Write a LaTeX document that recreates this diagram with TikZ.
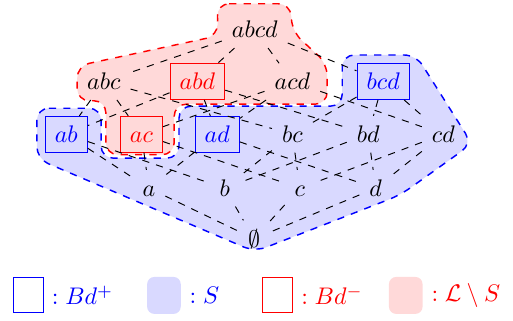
\documentclass[tikz,border=0pt]{standalone}
\usepackage{amsmath}
\usepackage{amssymb}
\usetikzlibrary{positioning}

\begin{document}
\begin{tikzpicture}[
  vertex/.style={inner sep=4pt, text height=1.6ex, text depth=0pt},
  bdplus/.style={draw=blue, text=blue},
  bdminus/.style={draw=red, text=red},
  edge/.style={dashed},
  region/.style={dashed, semithick, rounded corners=5pt}
]
\useasboundingbox (0,0) rectangle (7.51,4.685);

% S and L \ S
\draw[region, draw=blue, fill=blue!15] (0.54,3.10) -- (1.48,3.10) -- (1.48,2.37) -- (2.62,2.37) -- (2.62,3.13) -- (5.01,3.13) -- (5.01,3.88) -- (6.09,3.88) -- (6.91,2.58) -- (5.86,1.83) -- (3.73,1.00) -- (0.54,2.36) -- cycle;
\draw[region, draw=red, fill=red!15] (3.18,4.63) -- (4.25,4.63) -- (4.28,4.22) -- (4.79,3.75) -- (4.79,3.16) -- (2.55,3.16) -- (2.55,2.42) -- (1.55,2.42) -- (1.55,3.21) -- (1.13,3.21) -- (1.13,3.72) -- (3.19,4.16) -- cycle;

% lattice
\node[vertex] (abcd) at (3.73,4.25) {$abcd$};
\node[vertex] (abc) at (1.52,3.49) {$abc$};
\node[vertex, bdminus] (abd) at (2.89,3.49) {$abd$};
\node[vertex] (acd) at (4.28,3.49) {$acd$};
\node[vertex, bdplus] (bcd) at (5.61,3.49) {$bcd$};
\node[vertex, bdplus] (ab) at (0.97,2.72) {$ab$};
\node[vertex, bdminus] (ac) at (2.07,2.72) {$ac$};
\node[vertex, bdplus] (ad) at (3.18,2.72) {$ad$};
\node[vertex] (bc) at (4.28,2.72) {$bc$};
\node[vertex] (bd) at (5.39,2.72) {$bd$};
\node[vertex] (cd) at (6.49,2.72) {$cd$};
\node[vertex] (a) at (2.18,1.93) {$a$};
\node[vertex] (b) at (3.29,1.93) {$b$};
\node[vertex] (c) at (4.39,1.93) {$c$};
\node[vertex] (d) at (5.50,1.93) {$d$};
\node[vertex] (empty) at (3.72,1.19) {$\emptyset$};

% covering relations
\draw[edge] (abcd) -- (abc) (abcd) -- (abd) (abcd) -- (acd) (abcd) -- (bcd);
\draw[edge] (abc) -- (ab) (abc) -- (ac) (abc) -- (bc);
\draw[edge] (abd) -- (ab) (abd) -- (ad) (abd) -- (bd);
\draw[edge] (acd) -- (ac) (acd) -- (ad) (acd) -- (cd);
\draw[edge] (bcd) -- (bc) (bcd) -- (bd) (bcd) -- (cd);
\draw[edge] (ab) -- (a) (ab) -- (b) (ac) -- (a) (ac) -- (c) (ad) -- (a) (ad) -- (d);
\draw[edge] (bc) -- (b) (bc) -- (c) (bd) -- (b) (bd) -- (d) (cd) -- (c) (cd) -- (d);
\draw[edge] (a) -- (empty) (b) -- (empty) (c) -- (empty) (d) -- (empty);

% legend
\node[bdplus, inner sep=0pt, minimum width=12.5pt, minimum height=14.6pt] (keybdp) at (0.41,0.36) {};
\node[text=blue, right=0pt of keybdp] (keybdptxt) {$:Bd^+$};
\node[fill=blue!15, rounded corners=3pt, inner sep=0pt, minimum width=14pt, minimum height=15.4pt] (keys) at (2.40,0.36) {};
\node[text=blue, right=0pt of keys] (keystxt) {$:S$};
\node[bdminus, inner sep=0pt, minimum width=12.5pt, minimum height=14.6pt] (keybdm) at (4.06,0.36) {};
\node[text=red, right=0pt of keybdm] (keybdmtxt) {$:Bd^-$};
\node[fill=red!15, rounded corners=3pt, inner sep=0pt, minimum width=14pt, minimum height=15.4pt] (keyls) at (5.94,0.36) {};
\node[text=red, right=0pt of keyls] (keylstxt) {$:\mathcal{L}\setminus S$};
\end{tikzpicture}
\end{document}
